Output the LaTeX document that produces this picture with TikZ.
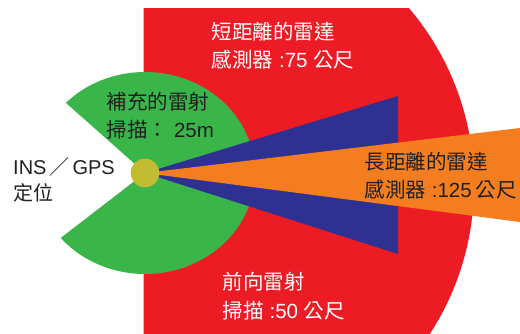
\documentclass[tikz,border=0pt]{standalone}
\usepackage{fontspec}
\setmainfont{Noto Sans CJK TC}
\newfontfamily\lat{Liberation Sans}
\definecolor{cred}{HTML}{ED1C24}
\definecolor{cgreen}{HTML}{39B54A}
\definecolor{cblue}{HTML}{2E3192}
\definecolor{corange}{HTML}{F47D20}
\definecolor{cyellow}{HTML}{C1BC32}
\definecolor{cdark}{HTML}{231F20}
\begin{document}
\begin{tikzpicture}[x=1pt,y=-1pt,
  lbl/.style={inner sep=0pt, anchor=west, align=left},
  sp283/.style={font=\fontsize{20.5}{28.3}\selectfont},
  sp276/.style={font=\fontsize{20.5}{27.6}\selectfont},
  sp29/.style={font=\fontsize{20.5}{29}\selectfont},
  sp26/.style={font=\fontsize{20}{26}\selectfont}]
\useasboundingbox (0,0) rectangle (520,334);
\coordinate (O) at (145,173);
\coordinate (RC) at (201,185);
\coordinate (B1) at (398,96);
\coordinate (B2) at (398,254);
\coordinate (R1) at (520,128);
\coordinate (R2) at (520,222);
\begin{scope}
  \clip (143.7,9) rectangle (520,334);
  \fill[cred] (RC) circle[radius=273pt];
\end{scope}
\fill[cgreen] (O) -- ++(136:110pt and 101pt)
  arc[start angle=136, end angle=-140, x radius=110pt, y radius=101pt] -- cycle;
\fill[cblue] (O) -- (B1) -- (B2) -- cycle;
\fill[corange] (O) -- (R1) -- (R2) -- cycle;
\node[circle, fill=cyellow, minimum size=28.6pt, inner sep=0pt] (gps) at (O) {};
\node[lbl, sp283, text=white] (short) at (211.7,45.9) {短距離的雷達\\感測器{\lat{} :75 }公尺};
\node[lbl, sp283, text=cdark] (laser) at (106.7,115.9) {補充的雷射\\掃描：{\lat{} 25m}};
\node[lbl, sp26, text=cdark] (ins) at (13,179.5) {{\lat INS}\hspace{3pt}／\hspace{3pt}{\lat GPS}\\定位};
\node[lbl, sp276, text=cdark] (long) at (364.5,175.5) {長距離的雷達\\感測器{\lat{} :125}\hspace{4pt}公尺};
\node[lbl, sp29, text=white] (front) at (222.7,296.5) {前向雷射\\掃描{\lat{} :50 }公尺};
\end{tikzpicture}
\end{document}
